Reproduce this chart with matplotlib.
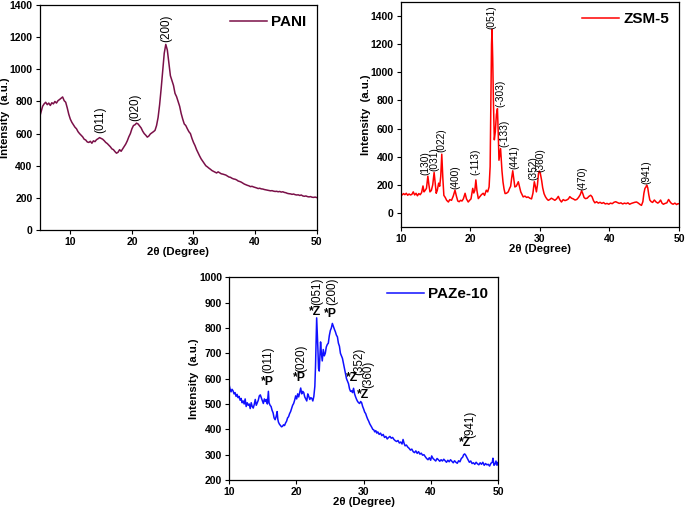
import numpy as np
import matplotlib
matplotlib.use('Agg')
import matplotlib.pyplot as plt

plt.rcParams['font.family'] = ['Liberation Sans', 'DejaVu Sans']

## PANI pattern, 2theta from 5 to 50 every 0.25 deg (one row = one degree)
pani_start, pani_step = 5.0, 0.25
pani_y = [
    700, 735, 770, 785,      # 5
    795, 780, 790, 775,      # 6
    792, 785, 800, 790,      # 7
    805, 812, 820, 828,      # 8
    805, 795, 760, 720,      # 9
    690, 670, 655, 640,      # 10
    630, 612, 600, 590,      # 11
    580, 565, 560, 548,      # 12
    545, 552, 540, 555,      # 13
    550, 562, 568, 575,      # 14
    570, 565, 556, 545,      # 15
    538, 528, 518, 505,      # 16
    500, 488, 478, 484,      # 17
    500, 490, 505, 520,      # 18
    535, 555, 580, 600,      # 19
    630, 650, 655, 665,      # 20
    660, 648, 635, 615,      # 21
    600, 590, 578, 585,      # 22
    598, 605, 612, 620,      # 23
    650, 700, 780, 880,      # 24
    990, 1100, 1155, 1120,   # 25
    1040, 960, 930, 900,     # 26
    850, 830, 800, 770,      # 27
    725, 690, 660, 650,      # 28
    630, 612, 600, 570,      # 29
    545, 525, 500, 480,      # 30
    460, 442, 428, 415,      # 31
    400, 393, 385, 378,      # 32
    370, 365, 360, 355,      # 33
    362, 356, 350, 348,      # 34
    345, 342, 336, 330,      # 35
    328, 322, 318, 316,      # 36
    312, 305, 302, 298,      # 37
    292, 286, 282, 278,      # 38
    275, 270, 272, 268,      # 39
    265, 262, 258, 260,      # 40
    256, 255, 252, 250,      # 41
    248, 246, 244, 245,      # 42
    242, 240, 241, 238,      # 43
    240, 236, 238, 234,      # 44
    232, 228, 226, 225,      # 45
    222, 224, 220, 218,      # 46
    219, 215, 218, 212,      # 47
    210, 212, 208, 206,      # 48
    208, 204, 203, 205,      # 49
    202,                     # 50
]
pani_labels = ['(011)', '(020)', '(200)']
pani_lab_x = [14.8, 20.6, 25.6]
pani_lab_y = [605, 676, 1172]

## ZSM-5 pattern (2theta, intensity)
zsm_pts = [
    (10.0, 135), (10.2, 128), (10.4, 138), (10.6, 130), (10.8, 140), (11.0, 126),
    (11.2, 135), (11.4, 128), (11.6, 132), (11.8, 150), (12.0, 128), (12.2, 140),
    (12.4, 122), (12.6, 138), (12.8, 130), (13.0, 145), (13.2, 192), (13.35, 150),
    (13.5, 160), (13.7, 175), (13.9, 262), (14.05, 200), (14.2, 150), (14.4, 160),
    (14.6, 200), (14.8, 288), (14.95, 210), (15.1, 140), (15.25, 160), (15.45, 212),
    (15.6, 190), (15.75, 260), (15.9, 418), (16.05, 250), (16.2, 125), (16.4, 110),
    (16.6, 90), (16.85, 78), (17.05, 95), (17.3, 90), (17.55, 120), (17.8, 162),
    (18.0, 120), (18.2, 85), (18.4, 80), (18.6, 90), (18.8, 85), (19.0, 100),
    (19.25, 140), (19.45, 100), (19.7, 78), (19.9, 90), (20.1, 100), (20.35, 175),
    (20.5, 142), (20.65, 160), (20.8, 235), (20.95, 160), (21.15, 102), (21.35, 115),
    (21.6, 130), (21.85, 140), (22.05, 125), (22.3, 162), (22.5, 150), (22.7, 185),
    (22.85, 330), (22.95, 800), (23.05, 1200), (23.12, 1305), (23.22, 1100), (23.32, 800),
    (23.45, 520), (23.6, 580), (23.75, 700), (23.9, 742), (24.02, 560), (24.12, 375),
    (24.25, 420), (24.35, 458), (24.45, 380), (24.55, 300), (24.7, 220), (24.85, 170),
    (25.0, 138), (25.2, 140), (25.45, 150), (25.65, 175), (25.8, 190), (25.95, 250),
    (26.1, 300), (26.25, 240), (26.4, 185), (26.6, 190), (26.75, 205), (26.9, 222),
    (27.05, 190), (27.25, 150), (27.45, 130), (27.6, 114), (27.85, 120), (28.1, 110),
    (28.3, 114), (28.55, 105), (28.8, 100), (29.0, 140), (29.2, 222), (29.35, 190),
    (29.5, 150), (29.65, 200), (29.8, 280), (29.92, 298), (30.05, 285), (30.25, 232),
    (30.4, 180), (30.6, 137), (30.8, 115), (31.0, 100), (31.2, 90), (31.4, 95),
    (31.65, 105), (31.9, 98), (32.15, 90), (32.4, 100), (32.65, 118), (32.85, 95),
    (33.1, 78), (33.35, 95), (33.6, 88), (33.85, 92), (34.1, 100), (34.3, 116),
    (34.55, 105), (34.8, 100), (35.05, 92), (35.3, 96), (35.55, 110), (35.8, 130),
    (36.0, 158), (36.15, 140), (36.35, 110), (36.55, 102), (36.8, 105), (37.05, 118),
    (37.3, 126), (37.5, 115), (37.7, 88), (37.9, 72), (38.15, 80), (38.4, 70),
    (38.65, 76), (38.9, 68), (39.15, 74), (39.4, 64), (39.65, 68), (39.9, 62),
    (40.15, 70), (40.4, 66), (40.65, 76), (40.9, 80), (41.15, 74), (41.4, 68),
    (41.65, 72), (41.9, 64), (42.15, 70), (42.4, 66), (42.65, 72), (42.9, 62),
    (43.15, 68), (43.4, 72), (43.65, 76), (43.9, 78), (44.15, 70), (44.4, 60),
    (44.6, 54), (44.8, 80), (44.95, 140), (45.1, 175), (45.25, 185), (45.35, 198),
    (45.5, 180), (45.65, 130), (45.8, 92), (46.0, 80), (46.2, 75), (46.45, 92),
    (46.7, 78), (46.95, 70), (47.15, 78), (47.35, 92), (47.55, 70), (47.75, 62),
    (48.0, 68), (48.25, 72), (48.5, 96), (48.7, 80), (48.9, 68), (49.15, 62),
    (49.4, 70), (49.65, 60), (49.85, 66), (50.0, 65),
]
zsm_labels = ['(130)', '(031)', '(022)', '(400)', '(-113)', '(051)', '(-303)',
              '(-133)', '(441)', '(352)', '(360)', '(470)', '(941)']
zsm_lab_x = [13.6, 14.8, 15.9, 17.8, 20.8, 23.1, 24.3, 24.9, 26.3, 29.05, 30.1, 36.15, 45.35]
zsm_lab_y = [268, 300, 432, 172, 268, 1310, 752, 468, 315, 232, 290, 160, 208]

## PAZe-10 pattern (2theta, intensity)
paze_pts = [
    (10.0, 578), (10.15, 560), (10.3, 548), (10.45, 558), (10.6, 552), (10.75, 540),
    (10.9, 545), (11.05, 530), (11.2, 538), (11.35, 525), (11.5, 530), (11.65, 515),
    (11.8, 522), (11.95, 505), (12.1, 512), (12.25, 500), (12.4, 520), (12.55, 490),
    (12.7, 505), (12.85, 495), (13.0, 500), (13.15, 482), (13.3, 505), (13.45, 490),
    (13.6, 484), (13.75, 498), (13.9, 518), (14.05, 495), (14.2, 505), (14.35, 515),
    (14.5, 532), (14.65, 536), (14.8, 525), (14.95, 515), (15.1, 502), (15.25, 520),
    (15.4, 510), (15.55, 518), (15.7, 500), (15.85, 550), (15.95, 505), (16.1, 495),
    (16.25, 490), (16.4, 475), (16.55, 465), (16.7, 445), (16.85, 438), (17.0, 450),
    (17.15, 470), (17.25, 440), (17.35, 428), (17.5, 420), (17.65, 415), (17.8, 410),
    (17.95, 412), (18.1, 418), (18.25, 415), (18.4, 425), (18.55, 432), (18.7, 445),
    (18.85, 450), (19.0, 462), (19.15, 470), (19.3, 482), (19.45, 495), (19.6, 502),
    (19.75, 515), (19.9, 532), (20.05, 520), (20.2, 540), (20.35, 528), (20.5, 545),
    (20.65, 563), (20.8, 540), (20.95, 550), (21.1, 545), (21.25, 528), (21.4, 520),
    (21.55, 512), (21.7, 540), (21.85, 530), (22.0, 518), (22.15, 525), (22.3, 522),
    (22.45, 512), (22.6, 530), (22.75, 570), (22.85, 650), (22.95, 760), (23.02, 840),
    (23.1, 790), (23.2, 720), (23.3, 640), (23.4, 630), (23.5, 690), (23.6, 745),
    (23.72, 700), (23.85, 670), (24.0, 715), (24.15, 690), (24.3, 700), (24.45, 725),
    (24.6, 735), (24.75, 740), (24.9, 770), (25.05, 790), (25.2, 800), (25.35, 818),
    (25.5, 806), (25.65, 795), (25.8, 785), (25.95, 772), (26.1, 765), (26.25, 740),
    (26.4, 728), (26.55, 700), (26.7, 690), (26.85, 680), (27.0, 660), (27.15, 640),
    (27.3, 618), (27.45, 600), (27.6, 590), (27.75, 580), (27.9, 560), (28.05, 550),
    (28.2, 552), (28.35, 545), (28.5, 562), (28.65, 540), (28.8, 528), (28.95, 518),
    (29.1, 510), (29.25, 505), (29.4, 502), (29.55, 510), (29.7, 505), (29.85, 490),
    (30.0, 480), (30.15, 468), (30.3, 462), (30.45, 450), (30.6, 440), (30.75, 432),
    (30.9, 422), (31.05, 415), (31.2, 408), (31.35, 400), (31.5, 398), (31.65, 390),
    (31.8, 395), (31.95, 385), (32.1, 390), (32.3, 380), (32.5, 385), (32.7, 375),
    (32.9, 380), (33.1, 368), (33.3, 372), (33.5, 362), (33.7, 368), (33.9, 372),
    (34.1, 365), (34.3, 368), (34.5, 360), (34.7, 355), (34.9, 352), (35.1, 356),
    (35.3, 346), (35.5, 350), (35.7, 342), (35.85, 360), (36.0, 345), (36.15, 335),
    (36.35, 338), (36.55, 330), (36.75, 325), (36.95, 318), (37.15, 322), (37.35, 312),
    (37.55, 308), (37.75, 315), (37.95, 305), (38.15, 312), (38.35, 302), (38.55, 306),
    (38.75, 298), (38.95, 300), (39.15, 292), (39.35, 285), (39.55, 280), (39.75, 288),
    (39.95, 278), (40.1, 295), (40.3, 285), (40.5, 280), (40.7, 275), (40.9, 285),
    (41.1, 280), (41.3, 274), (41.5, 280), (41.7, 275), (41.9, 282), (42.1, 276),
    (42.3, 270), (42.5, 278), (42.7, 272), (42.9, 280), (43.1, 274), (43.3, 268),
    (43.5, 276), (43.7, 270), (43.9, 266), (44.1, 276), (44.3, 272), (44.5, 285),
    (44.7, 290), (44.85, 300), (45.0, 303), (45.15, 298), (45.3, 290), (45.5, 280),
    (45.7, 270), (45.9, 275), (46.1, 265), (46.3, 268), (46.5, 262), (46.7, 270),
    (46.9, 264), (47.1, 260), (47.3, 268), (47.5, 262), (47.7, 270), (47.9, 258),
    (48.1, 265), (48.3, 260), (48.5, 262), (48.7, 255), (48.9, 266), (49.1, 270),
    (49.2, 286), (49.35, 258), (49.5, 262), (49.65, 275), (49.8, 258), (49.95, 270),
    (50.0, 268),
]
paze_hkl = ['(011)', '(020)', '(051)', '(200)', '(352)', '(360)', '(941)']
paze_hkl_x = [15.8, 20.7, 23.1, 25.3, 29.4, 30.7, 45.8]
paze_hkl_y = [621, 628, 891, 891, 614, 562, 364]
paze_tags = ['*P', '*P', '*Z', '*P', '*Z', '*Z', '*Z']
paze_tag_x = [15.7, 20.45, 22.8, 25.0, 28.3, 29.85, 45.1]
paze_tag_y = [588, 601, 864, 855, 601, 536, 347]


def style_axes(ax, xlim, ylim, yticks, name):
    ax.set_xlim(*xlim)
    ax.set_ylim(*ylim)
    ax.set_xticks([10, 20, 30, 40, 50])
    ax.set_yticks(yticks)
    ax.tick_params(direction='out', length=3, width=0.8, labelsize=7.5, pad=2)
    for lab in ax.get_xticklabels() + ax.get_yticklabels():
        lab.set_fontweight('bold')
    ax.set_xlabel('2θ (Degree)', fontsize=8.2, fontweight='bold', labelpad=0)
    ax.set_ylabel('Intensity  (a.u.)', fontsize=8.2, fontweight='bold', labelpad=0)
    for sp in ax.spines.values():
        sp.set_linewidth(0.9)
    ax.legend([name], loc='upper right', frameon=False, handlelength=2.4,
              handletextpad=0.3, borderaxespad=0.25,
              prop={'weight': 'bold', 'size': 11})


fig = plt.figure(figsize=(6.85, 5.08), dpi=100)

# PANI
ax1 = fig.add_axes([0.0577, 0.5472, 0.4046, 0.4429])
pani_x = pani_start + pani_step * np.arange(len(pani_y))
ax1.plot(pani_x, pani_y, color='#7a1048', lw=1.1)
style_axes(ax1, (5, 50), (0, 1400), np.arange(0, 1401, 200), 'PANI')
for t, x, y in zip(pani_labels, pani_lab_x, pani_lab_y):
    ax1.text(x, y, t, rotation=90, ha='center', va='bottom', fontsize=8.4)

# ZSM-5
ax2 = fig.add_axes([0.585, 0.5531, 0.4063, 0.4429])
zx, zy = zip(*zsm_pts)
ax2.plot(zx, zy, color='#ff0000', lw=1.1)
style_axes(ax2, (10, 50), (-100, 1500), np.arange(0, 1401, 200), 'ZSM-5')
for t, x, y in zip(zsm_labels, zsm_lab_x, zsm_lab_y):
    ax2.text(x, y, t, rotation=90, ha='center', va='bottom', fontsize=7.3)

# PAZe-10
ax3 = fig.add_axes([0.3343, 0.0551, 0.3932, 0.399])
px, py = zip(*paze_pts)
ax3.plot(px, py, color='#1010ff', lw=1.1)
style_axes(ax3, (10, 50), (200, 1000), np.arange(200, 1001, 100), 'PAZe-10')
for t, x, y in zip(paze_hkl, paze_hkl_x, paze_hkl_y):
    ax3.text(x, y, t, rotation=90, ha='center', va='bottom', fontsize=8.4)
for t, x, y in zip(paze_tags, paze_tag_x, paze_tag_y):
    ax3.text(x, y, t, ha='center', va='center', fontsize=8.8, fontweight='bold')

fig.savefig('out.png', dpi=100)
